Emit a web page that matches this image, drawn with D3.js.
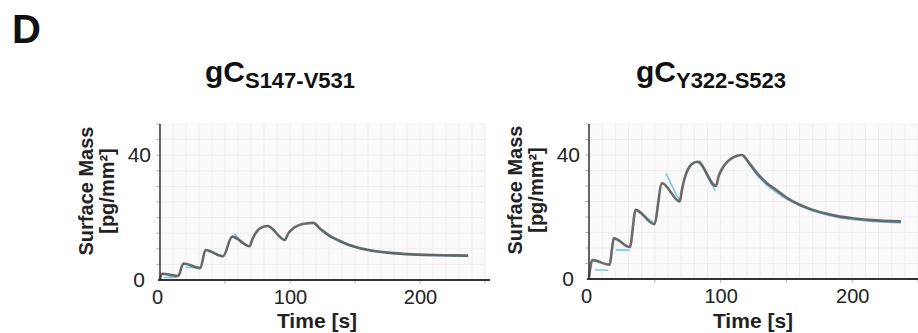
<!DOCTYPE html>
<html>
<head>
<meta charset="utf-8">
<script src="https://cdn.jsdelivr.net/npm/d3@7"></script>
<style>
  html, body { margin: 0; padding: 0; background: #fff; }
  svg { display: block; font-family: "Liberation Sans", Arial, sans-serif; }
</style>
</head>
<body>
<svg id="chart" width="918" height="333"></svg>
<script>
// Surface mass sensorgrams for two gC constructs: fit (grey) over measured data (cyan).
const panelSubs = ['S147-V531', 'Y322-S523'];
const timeTicks = [0, 100, 200];
const massTicks = [0, 40];

// fitted curves, [time s, mass pg/mm2]
const fitS147 = [
  [0, 0.3], [1.5, 2.0], [14, 1.3], [18, 5.3], [31, 3.8], [35, 9.6], [48.5, 7.6],
  [55.5, 13.9], [69, 10.8], [71, 13.0], [73.5, 15.0], [76.5, 16.4], [79.5, 17.1], [83, 17.3],
  [96, 12.8], [98.5, 14.8], [102, 16.4], [106.5, 17.5], [112, 18.1], [118, 18.3],
  [123, 16.5], [130, 14.3], [137, 12.8], [145, 11.3], [155, 10.1], [165, 9.3],
  [180, 8.6], [195, 8.2], [210, 8.0], [225, 7.9], [237, 7.8]
];
const fitY322 = [
  [0, 0.5], [2.5, 6.1], [15.5, 4.6], [19, 13.1], [31, 10.3], [35.5, 22.3], [49.5, 17.7],
  [55.5, 30.9], [69, 25.0], [70.5, 28.5], [72.5, 32.3], [75, 35.2], [78, 37.0], [82.5, 37.8],
  [96.5, 30.0], [98.5, 33.2], [101.5, 35.8], [105, 37.8], [110, 39.3], [116, 40.0],
  [122, 37.2], [128, 34.0], [135, 31.0], [143, 28.5], [150, 26.3], [160, 24.0],
  [170, 22.3], [180, 21.1], [190, 20.2], [200, 19.6], [215, 19.0], [237, 18.6]
];

// measured data, null = gap between dissociation phases
const dataS147 = [
  [3, 0.8], [13, 0.9], null,
  [20, 4.1], [31, 3.9], null,
  [37, 9.3], [42, 8.5], [48, 7.4], null,
  [57, 14.9], [62, 12.6], [68, 10.8], null,
  [83, 17.4], [90, 14.8], [96, 12.6], null,
  [119, 18.2], [123, 16.3], [130, 14.0], [137, 12.5], [145, 11.1], [155, 9.9],
  [165, 9.1], [180, 8.4], [195, 8.0], [210, 7.8], [237, 7.6]
];
const dataY322 = [
  [4.5, 2.9], [14.5, 2.8], null,
  [20.5, 9.4], [31, 9.3], null,
  [37, 21.8], [42, 20.5], [49, 18.2], null,
  [58.5, 34.1], [62, 31.0], [66, 27.5], [69, 25.3], null,
  [84, 38.2], [88, 35.0], [92, 31.5], [96, 28.5], null,
  [118, 40.0], [122, 36.8], [128, 33.3], [135, 30.3], [143, 27.7], [150, 25.8],
  [160, 23.6], [170, 21.9], [180, 20.7], [190, 19.8], [200, 19.2], [215, 18.6], [237, 18.1]
];

const svg = d3.select('#chart');

svg.append('text').attr('x', 12).attr('y', 43)
  .attr('font-size', 40).attr('font-weight', 'bold').attr('fill', '#111').text('D');

function panel(cfg){
  const x = d3.scaleLinear().domain([0, 250]).range([cfg.left, cfg.right]);
  const y = d3.scaleLinear().domain([0, 50]).range([cfg.bottom, cfg.top]);
  const g = svg.append('g');

  // plot background + faint grid
  g.append('rect').attr('x', x(0)).attr('y', y(50))
    .attr('width', x(250) - x(0)).attr('height', y(0) - y(50)).attr('fill', '#fafafa');
  g.append('g').selectAll('line').data(d3.range(10, 251, 10)).join('line')
    .attr('x1', d => x(d)).attr('x2', d => x(d)).attr('y1', y(0)).attr('y2', y(50))
    .attr('stroke', '#eeeeee').attr('stroke-width', 1);
  g.append('g').selectAll('line').data(d3.range(5, 51, 5)).join('line')
    .attr('x1', x(0)).attr('x2', x(250)).attr('y1', d => y(d)).attr('y2', d => y(d))
    .attr('stroke', '#eeeeee').attr('stroke-width', 1);

  // minor ticks
  g.append('g').selectAll('line').data(d3.range(5, 51, 5)).join('line')
    .attr('x1', x(0) - 4).attr('x2', x(0)).attr('y1', d => y(d)).attr('y2', d => y(d))
    .attr('stroke', '#bbb');
  g.append('g').selectAll('line').data(d3.range(50, 251, 50)).join('line')
    .attr('x1', d => x(d)).attr('x2', d => x(d)).attr('y1', y(0)).attr('y2', y(0) + 4)
    .attr('stroke', '#bbb');

  // lines
  const line = d3.line().defined(d => d).x(d => x(d[0])).y(d => y(d[1]));
  g.append('path').datum(cfg.data).attr('d', line)
    .attr('fill', 'none').attr('stroke', '#7cc8e0').attr('stroke-width', 1.6);
  g.append('path').datum(cfg.fit).attr('d', line.curve(d3.curveMonotoneX))
    .attr('fill', 'none').attr('stroke', '#5a5a5a').attr('stroke-width', 2.6)
    .attr('stroke-opacity', 0.9).attr('stroke-linejoin', 'round');

  // axes
  g.append('line').attr('x1', x(0)).attr('x2', x(0)).attr('y1', y(50)).attr('y2', y(0))
    .attr('stroke', '#333').attr('stroke-width', 1.5);
  g.append('line').attr('x1', x(0) - 2).attr('x2', cfg.axisEnd).attr('y1', y(0)).attr('y2', y(0))
    .attr('stroke', '#333').attr('stroke-width', 2);

  const xa = g.append('g').attr('transform', `translate(0,${y(0)})`)
    .call(d3.axisBottom(x).tickValues(timeTicks).tickSize(0).tickPadding(10));
  xa.select('.domain').remove();
  xa.selectAll('text').attr('font-size', 20).attr('fill', '#222')
    .attr('font-family', '"Liberation Sans", Arial, sans-serif')
    .attr('dx', d => d === 0 ? -3 : 0);

  const ya = g.append('g').attr('transform', `translate(${x(0)},0)`)
    .call(d3.axisLeft(y).tickValues(massTicks).tickSize(0).tickPadding(9));
  ya.select('.domain').remove();
  ya.selectAll('text').attr('font-size', 21).attr('fill', '#222')
    .attr('font-family', '"Liberation Sans", Arial, sans-serif')
    .attr('dx', d => d === 0 ? -6 : 0);

  // axis titles
  g.append('text').attr('x', cfg.xTitleX).attr('y', 328).attr('text-anchor', 'middle')
    .attr('font-size', 21).attr('font-weight', 'bold').attr('fill', '#222').text('Time [s]');
  const yt = g.append('text').attr('transform', `translate(${x(0) - 67},${y(0) - 89}) rotate(-90)`)
    .attr('text-anchor', 'middle').attr('font-size', 20).attr('font-weight', 'bold').attr('fill', '#222');
  yt.append('tspan').attr('x', 0).attr('y', 0).text('Surface Mass');
  yt.append('tspan').attr('x', 0).attr('y', 21).text('[pg/mm²]');

  // panel title
  const t = g.append('text').attr('x', cfg.titleX).attr('y', 82).attr('text-anchor', 'middle')
    .attr('font-weight', 'bold').attr('fill', '#111');
  t.append('tspan').attr('font-size', 30).text('gC');
  t.append('tspan').attr('font-size', 22).attr('dy', 6).text(cfg.sub);
}

panel({ left: 160, right: 485, top: 124, bottom: 280, axisEnd: 490, titleX: 280, xTitleX: 317,
  sub: panelSubs[0], fit: fitS147, data: dataS147 });
panel({ left: 589, right: 918, top: 124, bottom: 279, axisEnd: 918, titleX: 711, xTitleX: 753,
  sub: panelSubs[1], fit: fitY322, data: dataY322 });
</script>
</body>
</html>
